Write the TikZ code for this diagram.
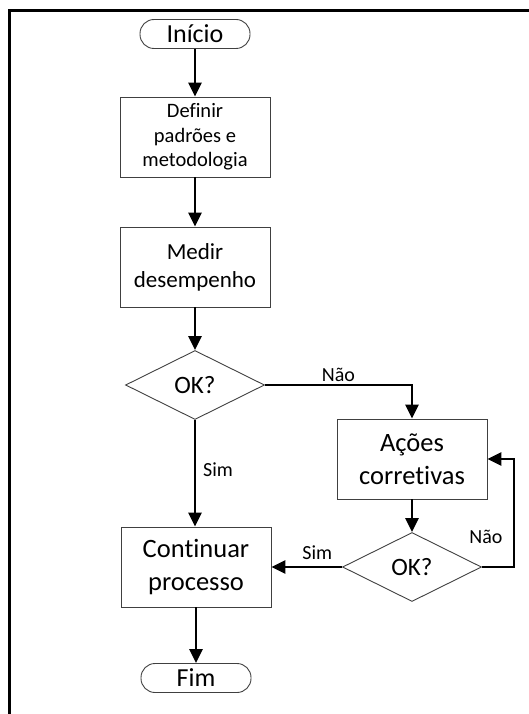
\documentclass[tikz,border=0pt]{standalone}
\usepackage{fontspec}
\setmainfont[Ligatures=NoCommon]{Carlito}
\usetikzlibrary{arrows.meta,shapes.geometric}

\begin{document}
\begin{tikzpicture}[x=1pt,y=-1pt,
  outline/.style={draw=black!75,line width=0.9pt,align=center,inner sep=0pt},
  stepbox/.style={outline,rectangle,minimum width=150pt,minimum height=80pt},
  terminal/.style={outline,rectangle,rounded corners=14pt,minimum width=110pt,minimum height=29pt,
    font=\fontsize{26}{31}\selectfont},
  decision/.style={outline,diamond,minimum width=139pt,minimum height=69pt,
    font=\fontsize{25}{30}\selectfont},
  conn/.style={line width=2.6pt,-{Triangle[length=14pt,width=13pt]}},
  lbl/.style={font=\fontsize{20}{24}\selectfont,inner sep=2pt}
]
\useasboundingbox (0,0) rectangle (529,714);

% frame (top and left sides only)
\draw[line width=3pt] (9,714) -- (9,11) -- (529,11);

% main column
\node[terminal] (inicio) at (195,34) {Início};
\node[stepbox,font=\fontsize{20.5}{24.5}\selectfont] (definir) at (195,137)
  {Definir\\padrões e\\metodologia};
\node[stepbox,font=\fontsize{23}{28}\selectfont] (medir) at (195,267)
  {Medir\\desempenho};
\node[decision] (ok1) at (195,385) {OK?};
\node[stepbox,font=\fontsize{26.5}{32.5}\selectfont] (continuar) at (196,567)
  {Continuar\\processo};
\node[terminal] (fim) at (196,678) {Fim};

% correction branch
\node[stepbox,font=\fontsize{26.5}{32.5}\selectfont] (acoes) at (412,459)
  {Ações\\corretivas};
\node[decision] (ok2) at (412,567) {OK?};

% connectors
\draw[conn] (inicio) -- (definir);
\draw[conn] (definir) -- (medir);
\draw[conn] (medir) -- (ok1);
\draw[conn] (ok1.east) -| (acoes.north) node[lbl,pos=0.25,above] {Não};
\draw[conn] (ok1.south) -- (ok1.south |- continuar.north);
\node[lbl,anchor=west] at (201,470) {Sim};
\draw[conn] (acoes) -- (ok2);
\draw[conn] (ok2.west) -- (continuar.east) node[lbl,pos=0.35,above=4pt] {Sim};
\draw[conn] (ok2.east) -- ++(32,0) |- (acoes.east);
\node[lbl] at (486,537) {Não};
\draw[conn] (continuar) -- (fim);
\end{tikzpicture}
\end{document}
